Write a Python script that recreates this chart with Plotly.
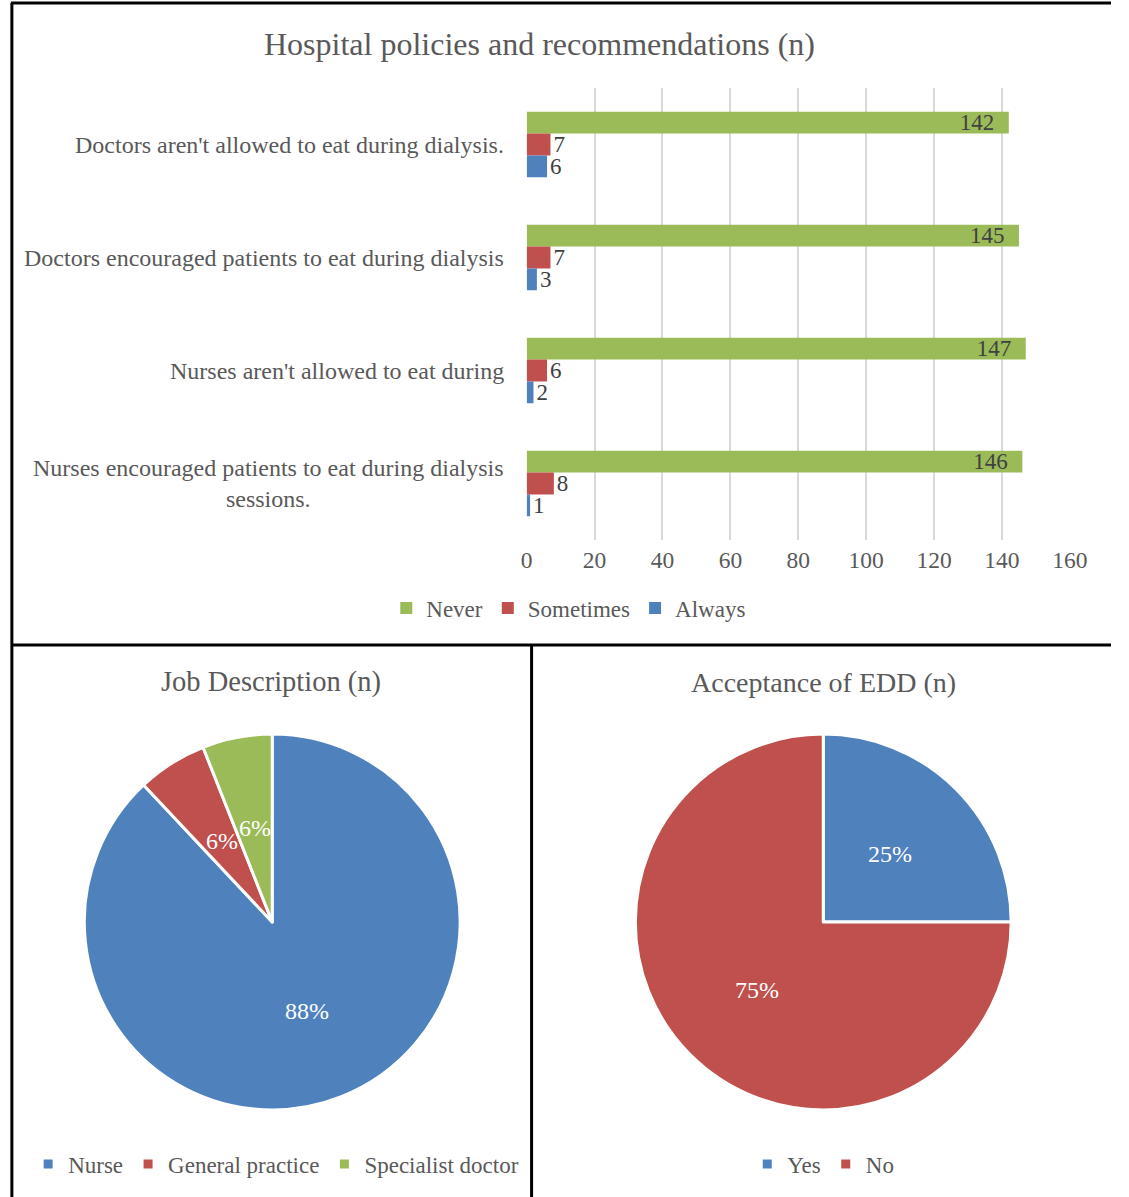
import math
import plotly.graph_objects as go

# Survey data (n = 155 respondents)
statements = [
    "Doctors aren't allowed to eat during dialysis.",
    "Doctors encouraged patients to eat during dialysis",
    "Nurses aren't allowed to eat during",
    "Nurses encouraged patients to eat during dialysis<br>sessions.",
]
never = [142, 145, 147, 146]
sometimes = [7, 7, 6, 8]
always = [6, 3, 2, 1]

job_labels = ["Nurse", "General practice", "Specialist doctor"]
job_values = [88, 6, 6]

edd_labels = ["Yes", "No"]
edd_values = [25, 75]

x_ticks = [0, 20, 40, 60, 80, 100, 120, 140, 160]

GREEN = "#9BBB59"
RED = "#C0504D"
BLUE = "#4F81BD"
TXT = "#595959"
LBL = "#404040"
FONT = "Liberation Serif"

W, H = 1129, 1197


def px(x):
    return x / W


def py(y):
    return 1 - y / H


fig = go.Figure()

# Horizontal grouped bars (y axis reversed, so the first trace is on top)
cat_idx = list(range(len(statements)))
for name, vals, col, pos, tmpl in [
    ("Never", never, GREEN, "inside", "%{x}\u00a0\u00a0"),
    ("Sometimes", sometimes, RED, "outside", "%{x}"),
    ("Always", always, BLUE, "outside", "%{x}"),
]:
    fig.add_trace(go.Bar(
        y=cat_idx, x=vals, orientation="h", name=name,
        marker=dict(color=col, line=dict(width=0)),
        texttemplate=tmpl, textposition=pos,
        insidetextanchor="end", constraintext="none",
        textfont=dict(family=FONT, size=23, color=LBL),
        cliponaxis=False, legend="legend",
    ))

fig.update_layout(
    barmode="group", bargap=0.42, bargroupgap=0,
    xaxis=dict(
        domain=[px(532), px(1087)], range=[0, 160], tickvals=x_ticks,
        showgrid=True, gridcolor="#D9D9D9", gridwidth=2, zeroline=False,
        showline=False, ticks="", ticklabelstandoff=3,
        tickfont=dict(family=FONT, size=23.5, color=TXT), anchor="y",
    ),
    yaxis=dict(
        domain=[py(540), py(88)], range=[3.5, -0.5], showticklabels=False,
        showgrid=False, zeroline=False, showline=False, anchor="x",
    ),
)

# Category labels, centred text block right-aligned to the axis
for i, s in enumerate(statements):
    fig.add_annotation(
        x=px(511), xref="paper", y=i, yref="y", text=s, showarrow=False,
        xanchor="right", yanchor="middle", align="center",
        font=dict(family=FONT, size=24, color=TXT),
    )

# Pies; percentage labels sit halfway out along each slice's middle angle
PIE_TOP, PIE_BOTTOM = 730, 1114
pies = [
    (job_labels, job_values, [BLUE, RED, GREEN], 80, 464, "legend2"),
    (edd_labels, edd_values, [BLUE, RED], 643, 1027, "legend3"),
]
for labels, values, colors, x0, x1, leg in pies:
    fig.add_trace(go.Pie(
        labels=labels, values=values, sort=False, direction="clockwise",
        rotation=0, marker=dict(colors=colors, line=dict(color="white", width=3)),
        textinfo="none",
        domain=dict(x=[px(x0), px(x1)], y=[py(PIE_BOTTOM), py(PIE_TOP)]),
        legend=leg, hoverinfo="label+percent",
    ))
    cx, cy = (x0 + x1) / 2, (PIE_TOP + PIE_BOTTOM) / 2
    r = min(x1 - x0, PIE_BOTTOM - PIE_TOP) / 2
    total = sum(values)
    cum = 0
    for v in values:
        mid = (cum + v / 2) / total * 2 * math.pi
        cum += v
        lx = cx + 0.5 * r * math.sin(mid)
        ly = cy - 0.5 * r * math.cos(mid)
        fig.add_annotation(
            x=px(lx), y=py(ly), xref="paper", yref="paper",
            text=f"{round(100 * v / total)}%", showarrow=False,
            xanchor="center", yanchor="middle",
            font=dict(family=FONT, size=24, color="white"),
        )

legend_common = dict(
    orientation="h", xanchor="center", yanchor="middle",
    font=dict(family=FONT, size=23, color=TXT), bgcolor="rgba(0,0,0,0)",
    itemwidth=30,
)

fig.update_layout(
    legend=dict(x=px(575), y=py(608), **legend_common),
    legend2=dict(x=px(276), y=py(1164), **legend_common),
    legend3=dict(x=px(835), y=py(1164), **legend_common),
)

# Chart titles
for x, y, t, sz in [
    (545, 44, "Hospital policies and recommendations (n)", 32),
    (271, 682, "Job Description (n)", 28.5),
    (835, 682, "Acceptance of EDD (n)", 28),
]:
    fig.add_annotation(
        x=px(x), y=py(y), xref="paper", yref="paper", text=t, showarrow=False,
        xanchor="center", yanchor="middle",
        font=dict(family=FONT, size=sz, color=TXT),
    )

# Panel borders
for x0, y0, x1, y1 in [
    (5, 3, W, 3),
    (6, 3, 6, H),
    (6, 645, W, 645),
    (537, 645, 537, H),
]:
    fig.add_shape(
        type="line", xref="paper", yref="paper",
        x0=px(x0), y0=py(y0), x1=px(x1), y1=py(y1),
        line=dict(color="black", width=3),
    )

fig.update_layout(
    width=W, height=H, margin=dict(l=0, r=0, t=0, b=0, pad=0),
    paper_bgcolor="white", plot_bgcolor="white", showlegend=True,
    font=dict(family=FONT, color=TXT),
)

fig.write_html(
    "out.html",
    config={"responsive": False},
    post_script="document.body.style.margin='0';",
)
